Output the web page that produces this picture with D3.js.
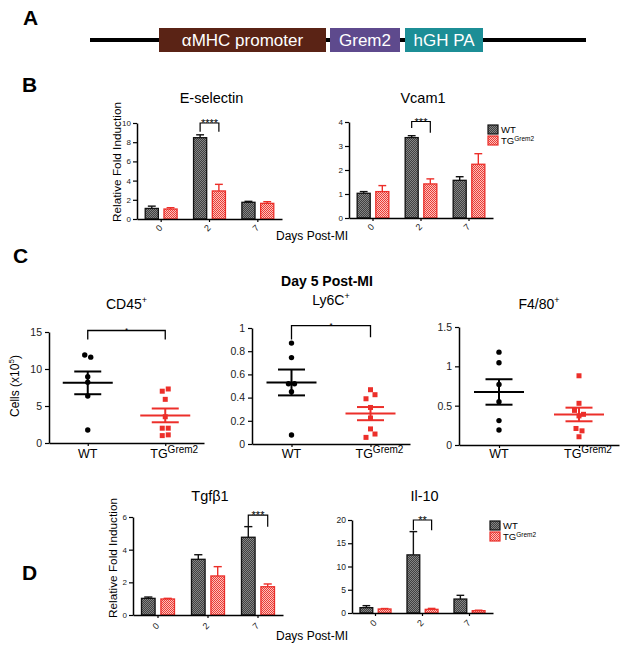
<!DOCTYPE html>
<html><head><meta charset="utf-8">
<script src="https://cdn.jsdelivr.net/npm/d3@7"></script>
<style>body{margin:0;background:#fff}svg{display:block}</style>
</head><body>
<svg id="c" width="626" height="650"></svg>
<script>
// ---------- DATA ----------
const constructParts = ["αMHC promoter", "Grem2", "hGH PA"];
const days = ["0", "2", "7"];
const groups = ["WT", "TG"];

const eselWT = [1.1, 8.47, 1.74], eselWTerr = [0.24, 0.3, 0.1];
const eselTG = [1.04, 2.92, 1.63], eselTGerr = [0.14, 0.69, 0.17];
const eselTicks = [0, 2, 4, 6, 8, 10];

const vcamWT = [1.03, 3.35, 1.57], vcamWTerr = [0.07, 0.08, 0.15];
const vcamTG = [1.1, 1.42, 2.24], vcamTGerr = [0.25, 0.21, 0.44];
const vcamTicks = [0, 1, 2, 3, 4];

const tgfWT = [1.02, 3.41, 4.76], tgfWTerr = [0.08, 0.28, 0.65];
const tgfTG = [0.98, 2.39, 1.73], tgfTGerr = [0.04, 0.57, 0.17];
const tgfTicks = [0, 2, 4, 6];

const il10WT = [1.15, 12.5, 3.0], il10WTerr = [0.43, 5.0, 0.8];
const il10TG = [0.86, 0.79, 0.5], il10TGerr = [0.1, 0.2, 0.1];
const il10Ticks = [0, 5, 10, 15, 20];

const cd45WT = [11.9, 11.6, 8.2, 8.96, 6.35, 1.75];
const cd45TG = [7.0, 7.3, 5.9, 3.55, 2.0, 2.0, 1.0, 1.1];
const cd45Ticks = [0, 5, 10, 15];

const ly6cWT = [0.87, 0.745, 0.52, 0.52, 0.45, 0.078];
const ly6cTG = [0.39, 0.468, 0.425, 0.315, 0.224, 0.057, 0.13, 0.086];
const ly6cTicks = [0, 0.2, 0.4, 0.6, 0.8, 1];

const f480WT = [1.18, 1.045, 0.77, 0.55, 0.31, 0.19];
const f480TG = [0.44, 0.88, 0.53, 0.37, 0.39, 0.21, 0.18, 0.105];
const f480Ticks = [0, 0.5, 1, 1.5];

// ---------- DRAWING ----------
const FONT = '"Liberation Sans", Arial, sans-serif';
const RED = "#ec2f2a";
const svg = d3.select("#c").attr("font-family", FONT);

const defs = svg.append("defs");
const pw = defs.append("pattern").attr("id", "pWT").attr("width", 2).attr("height", 2).attr("patternUnits", "userSpaceOnUse");
pw.append("rect").attr("width", 2).attr("height", 2).attr("fill", "#404040");
pw.append("rect").attr("width", 1).attr("height", 1).attr("fill", "#858585");
pw.append("rect").attr("x", 1).attr("y", 1).attr("width", 1).attr("height", 1).attr("fill", "#858585");
const pt = defs.append("pattern").attr("id", "pTG").attr("width", 2).attr("height", 2).attr("patternUnits", "userSpaceOnUse");
pt.append("rect").attr("width", 2).attr("height", 2).attr("fill", "#f8c4c0");
pt.append("rect").attr("width", 1).attr("height", 1).attr("fill", "#ee3a33");
pt.append("rect").attr("x", 1).attr("y", 1).attr("width", 1).attr("height", 1).attr("fill", "#ee3a33");

function panelLabel(t, x, y) {
  svg.append("text").attr("x", x).attr("y", y).attr("font-size", 21).attr("font-weight", "bold").text(t);
}

// ----- Panel A -----
panelLabel("A", 23, 25);
svg.append("line").attr("x1", 90).attr("x2", 586).attr("y1", 40).attr("y2", 40).attr("stroke", "#000").attr("stroke-width", 4);
const boxX = [[159, 326], [330, 400], [405, 483]];
const boxCol = ["#5a2315", "#5e4a8d", "#1c8e96"];
constructParts.forEach((t, i) => {
  svg.append("rect").attr("x", boxX[i][0]).attr("y", 28).attr("width", boxX[i][1] - boxX[i][0]).attr("height", 24).attr("fill", boxCol[i]);
  svg.append("text").attr("x", (boxX[i][0] + boxX[i][1]) / 2).attr("y", 46).attr("text-anchor", "middle")
    .attr("fill", "#fff").attr("font-size", 17).text(t);
});

function styleAxis(a, fs) {
  a.attr("font-family", FONT).attr("font-size", fs);
  a.select(".domain").attr("stroke", "#000").attr("stroke-width", 1.5);
  a.selectAll(".tick line").attr("stroke", "#000").attr("stroke-width", 1.2);
  a.selectAll(".tick text").attr("fill", "#222");
}

function barChart(o) {
  const g = svg.append("g");
  const x = d3.scaleBand().domain(days).range([o.x0, o.x1]).paddingInner(0.34).paddingOuter(0.17);
  const xi = d3.scaleBand().domain(groups).range([0, x.bandwidth()]).paddingInner(0.3);
  const y = d3.scaleLinear().domain([0, o.max]).range([o.y0, o.y1]);
  const series = [
    { k: "WT", v: o.wt, e: o.wte, fill: "url(#pWT)", stroke: "#111" },
    { k: "TG", v: o.tg, e: o.tge, fill: "url(#pTG)", stroke: RED }
  ];
  const bw = xi.bandwidth();
  series.forEach(s => {
    days.forEach((d, i) => {
      const bx = x(d) + xi(s.k), cx = bx + bw / 2;
      g.append("line").attr("x1", cx).attr("x2", cx).attr("y1", y(s.v[i])).attr("y2", y(s.v[i] + s.e[i]))
        .attr("stroke", s.stroke).attr("stroke-width", 1.4);
      g.append("line").attr("x1", cx - bw * 0.3).attr("x2", cx + bw * 0.3).attr("y1", y(s.v[i] + s.e[i])).attr("y2", y(s.v[i] + s.e[i]))
        .attr("stroke", s.stroke).attr("stroke-width", 1.4);
      g.append("rect").attr("x", bx).attr("y", y(s.v[i])).attr("width", bw).attr("height", o.y0 - y(s.v[i]))
        .attr("fill", s.fill).attr("stroke", s.stroke).attr("stroke-width", 1.3);
    });
  });
  const ya = g.append("g").attr("transform", `translate(${o.x0},0)`)
    .call(d3.axisLeft(y).tickValues(o.ticks).tickSize(4).tickSizeOuter(0).tickPadding(2).tickFormat(d => String(d)));
  styleAxis(ya, o.tf);
  const xa = g.append("g").attr("transform", `translate(0,${o.y0})`)
    .call(d3.axisBottom(x).tickSize(3).tickSizeOuter(0).tickFormat(""));
  styleAxis(xa, o.tf);
  days.forEach(d => {
    g.append("text").attr("transform", `translate(${x(d) + x.bandwidth() / 2 - 2},${o.y0 + o.lab}) rotate(-45)`)
      .attr("text-anchor", "middle").attr("dominant-baseline", "central").attr("font-size", 9).attr("fill", "#222").text(d);
  });
  g.append("text").attr("x", (o.x0 + o.x1) / 2 + 2).attr("y", o.ty).attr("text-anchor", "middle").attr("font-size", 14.5).text(o.title);
  const sg = o.sig;
  const xl = x(sg.day) + xi("WT") + bw / 2, xr = x(sg.day) + xi("TG") + bw / 2;
  g.append("path").attr("d", `M${xl},${y(sg.legL)}V${y(sg.top)}H${xr}V${y(sg.legR)}`)
    .attr("fill", "none").attr("stroke", "#000").attr("stroke-width", 1.2);
  g.append("text").attr("x", (xl + xr) / 2).attr("y", y(sg.top) + 4).attr("text-anchor", "middle").attr("font-size", 11).text(sg.label);
  return g;
}

function yLabel(t, x, y, fs) {
  svg.append("text").attr("transform", `translate(${x},${y}) rotate(-90)`).attr("text-anchor", "middle").attr("font-size", fs).text(t);
}

function legend(x, y) {
  svg.append("rect").attr("x", x).attr("y", y).attr("width", 10).attr("height", 9).attr("fill", "url(#pWT)").attr("stroke", "#111").attr("stroke-width", 1.2);
  svg.append("rect").attr("x", x).attr("y", y + 11).attr("width", 10).attr("height", 9).attr("fill", "url(#pTG)").attr("stroke", RED).attr("stroke-width", 1.2);
  svg.append("text").attr("x", x + 13).attr("y", y + 8).attr("font-size", 9.5).text("WT");
  const t = svg.append("text").attr("x", x + 13).attr("y", y + 19).attr("font-size", 9.5);
  t.append("tspan").text("TG");
  t.append("tspan").attr("font-size", 6.5).attr("dy", -3.5).text("Grem2");
}

// ----- Panel B -----
panelLabel("B", 22, 92);
barChart({ x0: 137, x1: 282, y0: 219, y1: 123, max: 10, ticks: eselTicks, tf: 8, lab: 9,
  wt: eselWT, wte: eselWTerr, tg: eselTG, tge: eselTGerr, title: "E-selectin", ty: 102.5,
  sig: { day: "2", top: 10, legL: 9.1, legR: 9.1, label: "****" } });
barChart({ x0: 349, x1: 493, y0: 218, y1: 122, max: 4, ticks: vcamTicks, tf: 8, lab: 9,
  wt: vcamWT, wte: vcamWTerr, tg: vcamTG, tge: vcamTGerr, title: "Vcam1", ty: 102.5,
  sig: { day: "2", top: 4.02, legL: 3.75, legR: 3.55, label: "***" } });
yLabel("Relative Fold Induction", 121, 162, 11.8);
svg.append("text").attr("x", 312).attr("y", 240).attr("text-anchor", "middle").attr("font-size", 12).text("Days Post-MI");
legend(488, 125);

// ----- Panel C -----
panelLabel("C", 13, 263);
svg.append("text").attr("x", 327).attr("y", 286).attr("text-anchor", "middle").attr("font-size", 14).attr("font-weight", "bold").text("Day 5 Post-MI");

function dodge(vals, y, thr, spPair, spMany) {
  const idx = vals.map((v, i) => i).sort((a, b) => vals[b] - vals[a]);
  const off = new Array(vals.length).fill(0);
  let grp = [idx[0]];
  const flush = () => {
    const s = grp.slice().sort((a, b) => a - b);
    const sp = s.length > 2 ? spMany : spPair;
    s.forEach((k, j) => off[k] = (j - (s.length - 1) / 2) * sp);
  };
  for (let k = 1; k < idx.length; k++) {
    if (Math.abs(y(vals[idx[k]]) - y(vals[idx[k - 1]])) < thr) grp.push(idx[k]);
    else { flush(); grp = [idx[k]]; }
  }
  flush();
  return off;
}

function scatter(o) {
  const g = svg.append("g");
  const x = d3.scalePoint().domain(groups).range([o.x0, o.x1]).padding(0.5);
  const y = d3.scaleLinear().domain([0, o.max]).range([o.y0, o.y1]);
  const sets = [{ k: "WT", v: o.wt, c: "#000" }, { k: "TG", v: o.tg, c: RED }];
  sets.forEach(s => {
    const cx = x(s.k);
    const off = dodge(s.v, y, 5.5, 6, 4.5);
    s.v.forEach((v, i) => {
      if (s.k === "WT") g.append("circle").attr("cx", cx + off[i]).attr("cy", y(v)).attr("r", 2.7).attr("fill", s.c);
      else g.append("rect").attr("x", cx + off[i] - 2.5).attr("y", y(v) - 2.5).attr("width", 5).attr("height", 5).attr("fill", s.c);
    });
    const m = d3.mean(s.v), se = d3.deviation(s.v) / Math.sqrt(s.v.length);
    g.append("line").attr("x1", cx - 25).attr("x2", cx + 25).attr("y1", y(m)).attr("y2", y(m)).attr("stroke", s.c).attr("stroke-width", 2);
    [m + se, m - se].forEach(b => g.append("line").attr("x1", cx - 13.5).attr("x2", cx + 13.5).attr("y1", y(b)).attr("y2", y(b)).attr("stroke", s.c).attr("stroke-width", 2));
    g.append("line").attr("x1", cx).attr("x2", cx).attr("y1", y(m + se)).attr("y2", y(m - se)).attr("stroke", s.c).attr("stroke-width", 2);
  });
  const ya = g.append("g").attr("transform", `translate(${o.x0},0)`)
    .call(d3.axisLeft(y).tickValues(o.ticks).tickSize(4).tickSizeOuter(0).tickPadding(3).tickFormat(d => String(d)));
  styleAxis(ya, 10.5);
  const xa = g.append("g").attr("transform", `translate(0,${o.y0})`)
    .call(d3.axisBottom(x).tickSize(3).tickSizeOuter(0).tickFormat(""));
  styleAxis(xa, 10);
  g.append("text").attr("x", x("WT")).attr("y", 458).attr("text-anchor", "middle").attr("font-size", 12.5).text("WT");
  const tl = g.append("text").attr("x", x("TG") - 15).attr("y", 458).attr("font-size", 12.5);
  tl.append("tspan").text("TG");
  tl.append("tspan").attr("font-size", 10).attr("dy", -5).text("Grem2");
  const tt = g.append("text").attr("x", (x("WT") + x("TG")) / 2).attr("y", o.ty).attr("text-anchor", "middle").attr("font-size", 14);
  tt.append("tspan").text(o.title);
  tt.append("tspan").attr("font-size", 9).attr("dy", -6).text("+");
  if (o.sig) {
    const sg = o.sig;
    g.append("path").attr("d", `M${x("WT")},${y(sg.legL)}V${y(sg.top)}H${x("TG")}V${y(sg.legR)}`)
      .attr("fill", "none").attr("stroke", "#000").attr("stroke-width", 1.3);
    g.append("text").attr("x", (x("WT") + x("TG")) / 2).attr("y", y(sg.top) + 2).attr("text-anchor", "middle").attr("font-size", 8).text(sg.label);
  }
}

scatter({ x0: 49, x1: 204, y0: 443, y1: 332, max: 15, ticks: cd45Ticks, wt: cd45WT, tg: cd45TG, title: "CD45", ty: 309,
  sig: { top: 15.2, legL: 14.0, legR: 14.0, label: "*" } });
scatter({ x0: 252, x1: 410, y0: 444, y1: 328, max: 1, ticks: ly6cTicks, wt: ly6cWT, tg: ly6cTG, title: "Ly6C", ty: 305,
  sig: { top: 1.02, legL: 0.9, legR: 0.92, label: "*" } });
scatter({ x0: 459, x1: 619, y0: 445, y1: 327, max: 1.5, ticks: f480Ticks, wt: f480WT, tg: f480TG, title: "F4/80", ty: 309 });
const cl = svg.append("text").attr("transform", "translate(19,386) rotate(-90)").attr("text-anchor", "middle").attr("font-size", 12);
cl.append("tspan").text("Cells (x10");
cl.append("tspan").attr("font-size", 8).attr("dy", -5).text("5");
cl.append("tspan").attr("dy", 5).text(")");

// ----- Panel D -----
panelLabel("D", 22, 580);
barChart({ x0: 133, x1: 283, y0: 615, y1: 517, max: 6, ticks: tgfTicks, tf: 8, lab: 11,
  wt: tgfWT, wte: tgfWTerr, tg: tgfTG, tge: tgfTGerr, title: "Tgfβ1", ty: 500.7,
  sig: { day: "7", top: 6.12, legL: 5.45, legR: 5.4, label: "***" } });
barChart({ x0: 352, x1: 493, y0: 613, y1: 520, max: 20, ticks: il10Ticks, tf: 8.5, lab: 10,
  wt: il10WT, wte: il10WTerr, tg: il10TG, tge: il10TGerr, title: "Il-10", ty: 500.7,
  sig: { day: "2", top: 20, legL: 17.8, legR: 17.8, label: "**" } });
yLabel("Relative Fold Induction", 117, 558, 11.8);
svg.append("text").attr("x", 312).attr("y", 640).attr("text-anchor", "middle").attr("font-size", 12).text("Days Post-MI");
legend(490, 521);
</script>
</body></html>
